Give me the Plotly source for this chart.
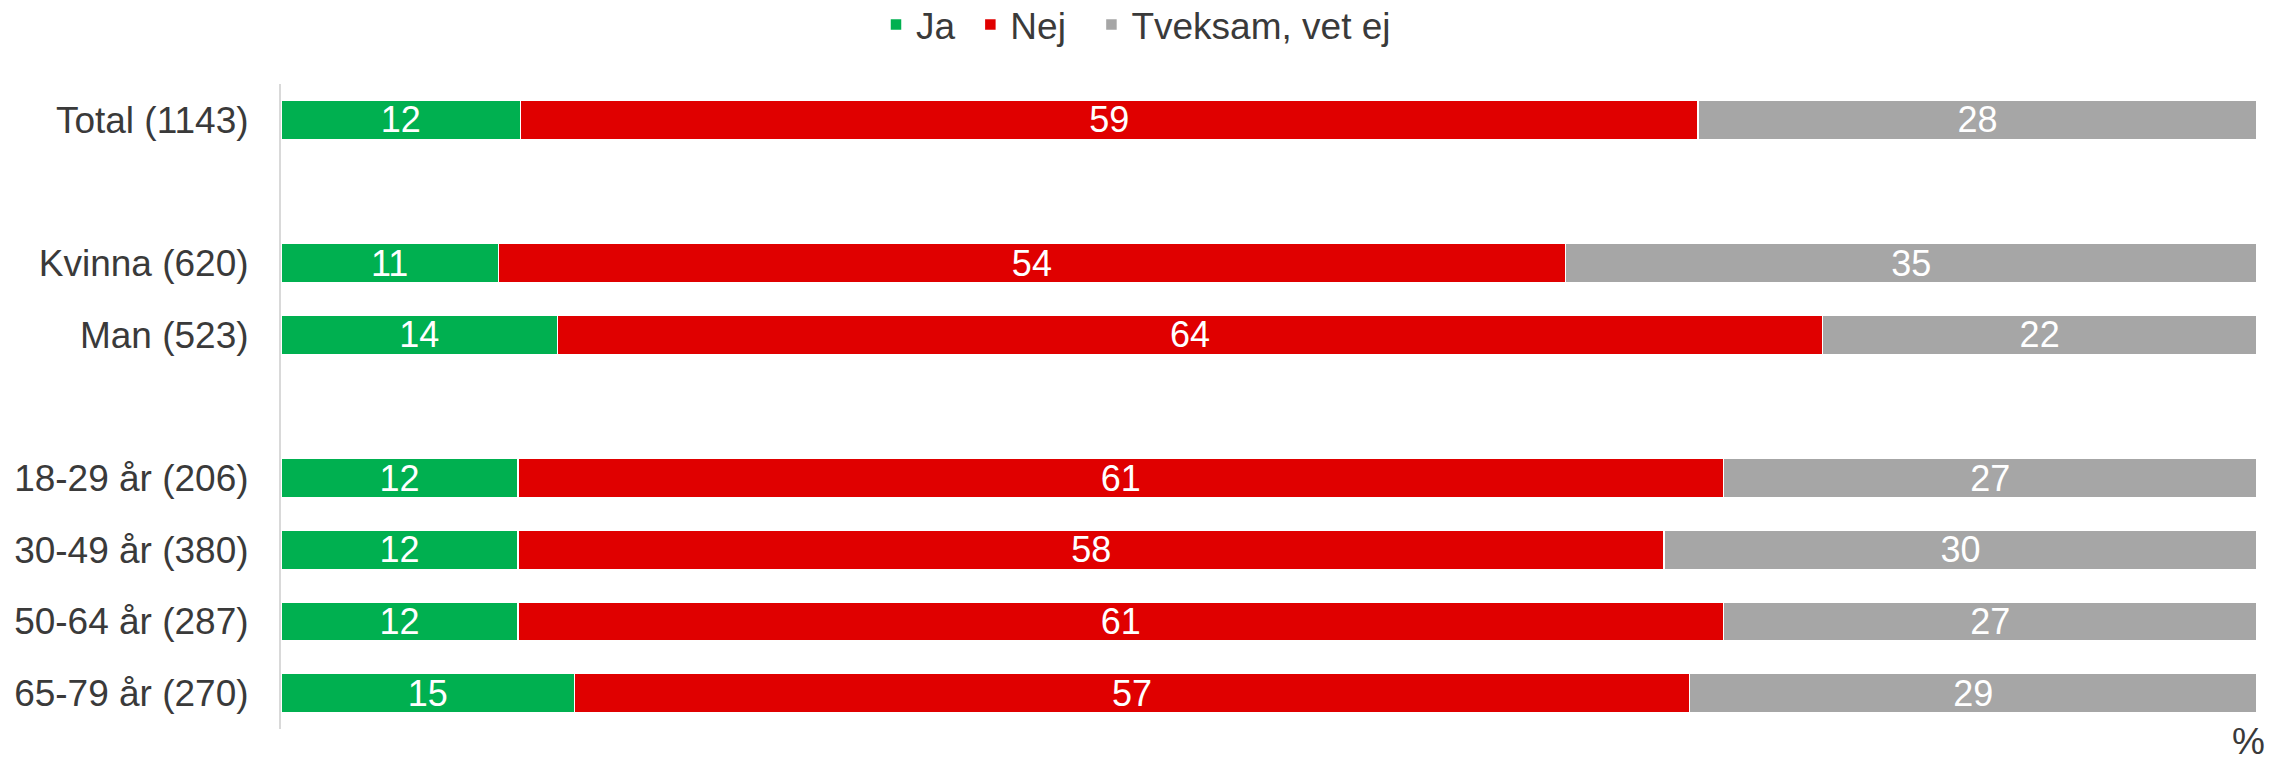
import plotly.graph_objects as go

categories = ["Total (1143)", " ", "Kvinna (620)", "Man (523)", "  ",
              "18-29 år (206)", "30-49 år (380)", "50-64 år (287)", "65-79 år (270)"]
ja = [12, None, 11, 14, None, 12, 12, 12, 15]
nej = [59, None, 54, 64, None, 61, 58, 61, 57]
tveksam = [28, None, 35, 22, None, 27, 30, 27, 29]
legend_names = ["Ja", "Nej", "Tveksam, vet ej"]

colors = ["#00B050", "#E00000", "#A6A6A6"]
pads = ["\u00a0", "\u00a0\u00a0", ""]
series = list(zip(legend_names, [ja, nej, tveksam], colors, pads))

FONT = "Liberation Sans"
TXT = "#3A3A3A"

fig = go.Figure()
for name, vals, color, pad in series:
    fig.add_trace(go.Bar(
        y=categories, x=vals, name=name + pad, orientation="h",
        marker=dict(color=color, line=dict(color="white", width=1.5)),
        text=[("" if v is None else str(v)) for v in vals],
        textposition="inside", insidetextanchor="middle", textangle=0,
        textfont=dict(color="white", size=36, family=FONT),
        constraintext="none",
        hoverinfo="skip",
    ))

fig.update_layout(
    barmode="stack", barnorm="percent", bargap=0.456,
    width=2272, height=761,
    margin=dict(l=281, r=15, t=84, b=32, autoexpand=False),
    paper_bgcolor="white", plot_bgcolor="white",
    font=dict(family=FONT, size=37, color=TXT),
    legend=dict(orientation="h", xref="container", yref="paper",
                x=0.5, xanchor="center", y=1.1395, yanchor="top",
                font=dict(size=37, color=TXT), traceorder="normal",
                itemwidth=30, bgcolor="rgba(0,0,0,0)"),
    xaxis=dict(range=[0, 100], showgrid=False, zeroline=False,
               showticklabels=False, showline=False, ticks=""),
    yaxis=dict(autorange="reversed", showgrid=False, zeroline=False,
               showline=True, linecolor="#D9D9D9", linewidth=2,
               ticks="", ticklabelstandoff=23, automargin=False,
               tickfont=dict(size=37, color=TXT, family=FONT)),
    annotations=[dict(text="%", x=1, y=0, xref="paper", yref="paper",
                      xanchor="center", yanchor="middle", xshift=-9, yshift=-12,
                      showarrow=False, font=dict(size=37, color=TXT, family=FONT))],
)

fig.write_html("out.html", config={"displayModeBar": False},
               post_script="document.body.style.margin='0';")
